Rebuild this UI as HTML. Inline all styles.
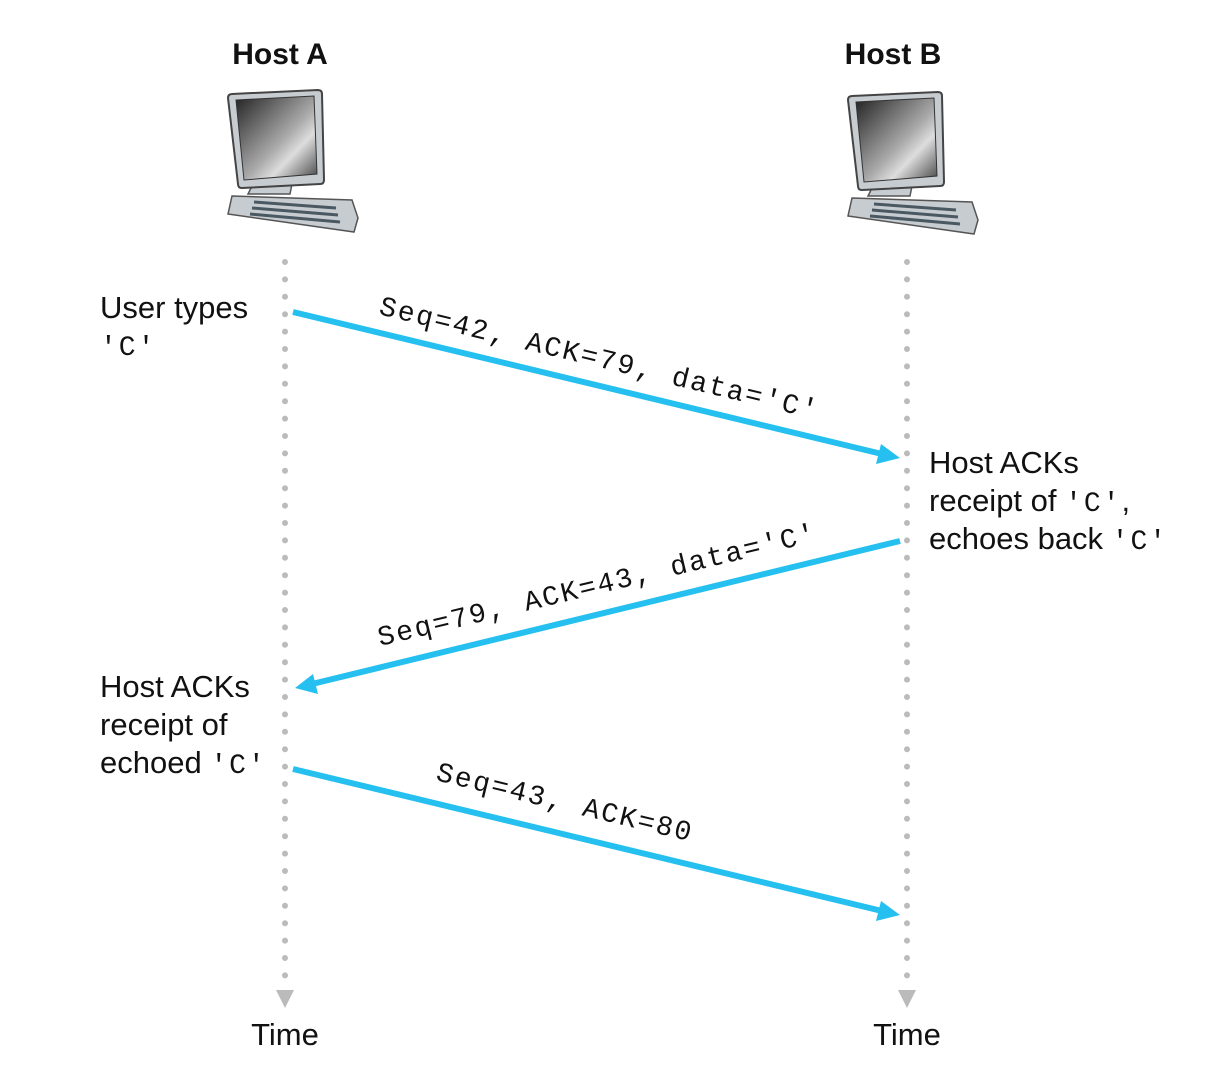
<!DOCTYPE html>
<html><head><style>
body{margin:0;background:#fff;}
svg{display:block}
.s{font-family:"Liberation Sans",sans-serif;font-size:31px;fill:#111}
.m{font-family:"Liberation Mono",monospace;font-size:28px;fill:#111;letter-spacing:2px}
.h{font-family:"Liberation Sans",sans-serif;font-size:30px;font-weight:bold;fill:#111}
</style></head><body>
<svg width="1230" height="1092" viewBox="0 0 1230 1092" xmlns="http://www.w3.org/2000/svg">
<defs>
<linearGradient id="sc" x1="0" y1="0" x2="1" y2="1">
<stop offset="0" stop-color="#222"/><stop offset="0.55" stop-color="#aaa"/><stop offset="0.7" stop-color="#ddd"/><stop offset="1" stop-color="#444"/>
</linearGradient>
<g id="pc">
<path d="M24,104 L30,92 L68,94 L66,104 Z" fill="#c7ccd1" stroke="#555" stroke-width="1.5"/>
<path d="M8,106 L128,110 L134,128 L130,142 L4,124 Z" fill="#c7ccd1" stroke="#555" stroke-width="1.5"/>
<path d="M30,112 L112,118 M28,118 L114,125 M26,124 L116,132" stroke="#4a5862" stroke-width="3"/>
<path d="M8,4 L94,0 Q98,0 98,4 L100,90 Q100,94 96,94 L18,98 Q14,98 14,94 L4,8 Q4,4 8,4 Z" fill="#c7ccd1" stroke="#444" stroke-width="2"/>
<path d="M12,10 L90,6 L93,84 L20,90 Z" fill="url(#sc)" stroke="#333" stroke-width="1"/>
</g>
</defs>
<text class="h" x="280" y="64" text-anchor="middle">Host A</text>
<text class="h" x="893" y="64" text-anchor="middle">Host B</text>
<use href="#pc" x="224" y="90"/>
<use href="#pc" x="844" y="92"/>
<line x1="285" y1="262" x2="285" y2="985" stroke="#bbb" stroke-width="6" stroke-linecap="round" stroke-dasharray="0 17.4"/>
<line x1="907" y1="262" x2="907" y2="985" stroke="#bbb" stroke-width="6" stroke-linecap="round" stroke-dasharray="0 17.4"/>
<path d="M276,990 L294,990 L285,1008 Z" fill="#bbb"/>
<path d="M898,990 L916,990 L907,1008 Z" fill="#bbb"/>
<g stroke="#25c0ef" stroke-width="6" fill="#25c0ef">
<line x1="293" y1="312" x2="882" y2="454"/>
<path d="M900,458 L876,464 L881,444 Z" stroke="none"/>
<line x1="900" y1="541" x2="312" y2="684"/>
<path d="M295,688 L313,674 L318,694 Z" stroke="none"/>
<line x1="293" y1="769" x2="882" y2="911"/>
<path d="M900,915 L876,921 L881,901 Z" stroke="none"/>
</g>
<text class="m" transform="translate(378,314) rotate(13.5)">Seq=42, ACK=79, data='C'</text>
<text class="m" transform="translate(380,646) rotate(-13.5)">Seq=79, ACK=43, data='C'</text>
<text class="m" transform="translate(435,780) rotate(13.5)">Seq=43, ACK=80</text>
<text class="s" x="100" y="318">User types</text>
<text class="m" x="100" y="355">'C'</text>
<text class="s" x="929" y="473">Host ACKs</text>
<text class="s" x="929" y="511">receipt of <tspan class="m">'C'</tspan>,</text>
<text class="s" x="929" y="549">echoes back <tspan class="m">'C'</tspan></text>
<text class="s" x="100" y="697">Host ACKs</text>
<text class="s" x="100" y="735">receipt of</text>
<text class="s" x="100" y="773">echoed <tspan class="m">'C'</tspan></text>
<text class="s" x="285" y="1045" text-anchor="middle">Time</text>
<text class="s" x="907" y="1045" text-anchor="middle">Time</text>
</svg>
</body></html>
